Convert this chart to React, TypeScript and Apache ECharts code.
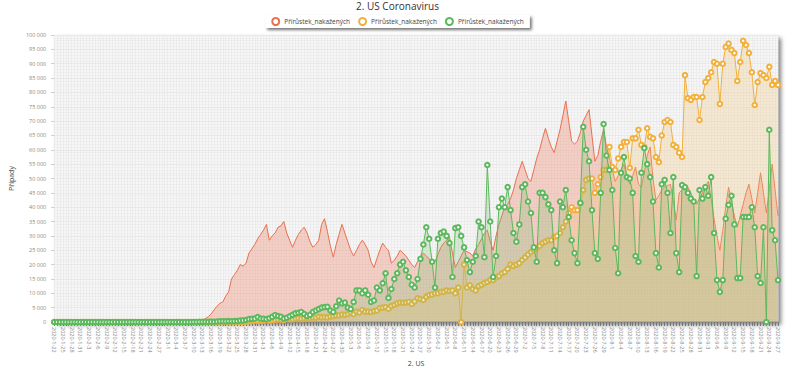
import React, { useEffect, useRef } from "react";
import * as echarts from "echarts";

const START_DATE = "2020-01-22";
const SERIES_NAME = "Přírůstek_nakažených";
const TITLE = "2. US Coronavirus";
const X_NAME = "2. US";
const Y_NAME = "Případy";

const usValues = [
  1,0,0,0,3,0,0,0,0,1,1,0,3,0,0,0,0,0,0,1,0,0,0,0,0,0,0,0,0,0,0,0,0,0,1,0,0,3,
  8,7,12,20,25,30,40,70,90,120,200,300,450,
  700,1200,1800,2800,4200,5500,6500,7000,9000,10500,15000,16500,18000,20000,19500,20500,24000,25500,27000,29000,30500,32000,34000,28500,30000,31000,33000,33500,35000,31000,28500,26000,28500,30500,32000,33000,31000,28000,26000,27000,28500,34000,36000,31500,26500,22600,27000,30500,34000,
  31000,28000,25000,23000,25000,27000,28500,27000,25000,21000,
  19000,22000,25000,27500,26000,25000,20500,21500,23000,25000,
  24000,23000,21500,20000,19000,21000,22500,24000,23000,22000,
  21000,21000,23500,26000,27500,28500,29600,24000,19000,21000,
  23000,25000,24500,24000,23000,25500,27000,29000,31000,32000,
  28000,25000,30000,34000,37000,40000,41000,43000,46000,50000,
  53000,56000,53000,50000,49000,53000,57000,60000,64000,67500,
  64000,61000,59000,63000,67000,72000,77000,70000,63000,62000,
  63000,66000,70000,72000,74000,65000,56000,58000,63000,67000,
  61000,57000,53000,49000,51000,53000,55000,51000,48000,51000,
  54000,48000,47000,52000,58000,61000,50000,42500,44000,46000,
  47000,47500,48000,42000,35500,45000,46000,46500,47000,45000,
  42500,41000,43000,45000,47000,49000,43000,36000,30000,25000,
  32000,40000,47000,42000,37000,33000,37000,41000,45000,48000,
  43000,38000,45000,52000,45000,38000,46000,55000,46000,37000,
];

const indiaValues = [
  0,0,0,0,0,0,0,0,1,0,0,1,1,
  0,0,0,0,0,0,0,0,0,0,0,0,0,0,0,0,0,0,0,0,0,0,0,0,0,0,0,
  2,1,22,2,1,3,5,9,15,8,
  10,10,12,20,12,20,30,40,60,80,
  70,100,80,150,100,130,150,230,400,530,
  440,500,550,700,500,600,800,900,850,750,
  1200,1000,1000,1200,1300,1100,1300,1400,1500,1600,
  1500,1800,1600,1700,1600,1900,2000,2300,2300,2600,
  2500,2800,3300,2700,3600,3300,4200,3600,3600,3500,
  3800,4000,4900,5000,5200,4600,5600,6000,6500,6800,
  6700,6800,7000,6300,7200,8300,8000,7700,8800,9400,
  9600,10000,10000,10500,10500,11000,10800,11000,10000,12000,
  0,20000,12000,12800,11500,11000,12500,13000,13600,14000,
  14600,14600,15500,16000,17000,17400,18500,20000,19500,20000,
  20500,21600,22500,23500,24400,25000,25800,26500,27500,28000,
  28500,28500,29600,30000,31000,33000,35000,38000,40000,39000,
  39000,41500,46000,49500,50000,50000,45000,48000,50500,53000,
  53000,61000,54000,53000,57000,61000,62700,62700,53700,64000,
  64000,67000,61700,61000,67500,64500,64000,57500,55700,65000,
  69700,70400,69700,61700,61000,59000,57500,86000,78000,77400,
  78400,78400,70400,78400,83600,85000,87000,90600,90000,76000,
  90000,95800,97000,94800,93700,84000,90600,98000,96500,93700,
  87000,75600,83600,86700,86000,85000,88900,82600,84000,82600,
];

const brazilValues = [
  0,0,0,0,0,0,0,0,0,0,0,0,0,0,0,0,0,0,0,0,0,0,0,0,0,0,0,0,0,0,0,0,0,0,0,
  1,0,0,1,0,1,0,0,5,7,6,6,12,25,15,60,50,80,70,120,100,170,230,260,240,
  300,250,300,350,500,550,700,1000,1100,1200,
  1700,1200,1100,1000,1300,1800,2400,2100,1800,1200,
  1500,2000,2500,3000,3200,3500,2800,2100,2500,3500,
  4000,4500,5000,5200,5300,4000,3500,5500,7500,6500,
  6800,5000,4500,7000,11000,11000,10000,11000,9500,7000,
  7500,12000,11000,13500,17000,8400,11500,15000,17000,20000,
  21000,18000,15700,13000,12000,15000,
  22000,27000,33000,29000,21000,12000,29000,31000,31500,30000,
  27500,15700,32700,33000,30000,26000,21600,17400,21000,23000,
  35000,33000,22600,54700,35000,15700,23000,40000,43000,40000,
  47000,39000,31000,28000,34000,47000,48000,42000,38000,26000,
  21000,45000,45000,43500,41000,39000,25000,20500,42000,40000,
  46000,36600,28500,24000,20500,41500,68000,60000,56000,39000,
  24000,22000,45000,69000,58000,53000,46000,25800,17000,52000,
  57500,50500,50000,45000,23000,21000,52000,60600,55000,50500,
  42000,24000,19000,48000,49500,45000,31000,50500,24000,17400,
  47700,47000,45000,43000,42000,16000,46000,43000,47000,44000,
  50500,31000,14600,10500,14600,36000,40800,44000,34000,15300,
  15300,36600,36600,36600,40000,33000,16000,13600,33000,0,
  67000,32000,28500,14600,
];

const COUNT = Math.max(usValues.length, indiaValues.length, brazilValues.length);

function buildDates(start: string, n: number): string[] {
  const out: string[] = [];
  const d = new Date(start + "T00:00:00Z");
  for (let i = 0; i < n; i++) {
    out.push(`${d.getUTCFullYear()}-${d.getUTCMonth() + 1}-${d.getUTCDate()}`);
    d.setUTCDate(d.getUTCDate() + 1);
  }
  return out;
}

const categories = buildDates(START_DATE, COUNT);

const fmt = (v: number) => String(v).replace(/\B(?=(\d{3})+(?!\d))/g, " ");

export default function App() {
  const ref = useRef<HTMLDivElement>(null);
  useEffect(() => {
    if (!ref.current) return;
    document.body.style.margin = "0";
    const chart = echarts.init(ref.current, undefined, { renderer: "svg" });
    const font = "Open Sans";
    const mk = (id: number, data: number[], color: string, area: string, sym: boolean, z: number) => ({
      name: SERIES_NAME + "#" + id,
      type: "line",
      data,
      z,
      symbol: "emptyCircle",
      symbolSize: 4.5,
      showSymbol: sym,
      showAllSymbol: true,
      lineStyle: { color, width: 1 },
      itemStyle: { color, borderWidth: 1.1 },
      areaStyle: { color: area },
    });
    chart.setOption({
      animation: false,
      backgroundColor: "#ffffff",
      textStyle: { fontFamily: font },
      title: {
        text: TITLE,
        left: "center",
        top: 1,
        padding: 0,
        textStyle: { fontSize: 10, fontWeight: "normal", color: "#333", fontFamily: font },
      },
      legend: {
        top: 15,
        left: "center",
        icon: "emptyCircle",
        itemWidth: 7,
        itemHeight: 7,
        itemGap: 8,
        padding: [2, 6, 2, 6],
        backgroundColor: "#fff",
        shadowColor: "rgba(0,0,0,0.55)",
        shadowBlur: 3,
        shadowOffsetX: 2,
        shadowOffsetY: 2,
        itemStyle: { borderWidth: 2 },
        textStyle: { fontSize: 6.5, color: "#444", fontFamily: font },
        formatter: (n: string) => n.split("#")[0],
      },
      grid: {
        left: 45,
        right: 17,
        top: 35,
        bottom: 60,
        show: true,
        backgroundColor: "#f6f6f6",
        borderWidth: 0,
        shadowColor: "rgba(0,0,0,0.5)",
        shadowBlur: 4,
        shadowOffsetX: 3,
        shadowOffsetY: 3,
      },
      xAxis: {
        type: "category",
        data: categories,
        boundaryGap: false,
        name: X_NAME,
        nameLocation: "middle",
        nameGap: 37,
        nameTextStyle: { fontSize: 7, color: "#444" },
        axisLine: { lineStyle: { color: "#888", width: 1.5 } },
        axisTick: { show: true, interval: 0, length: 4, lineStyle: { color: "#777", width: 1 } },
        axisLabel: { interval: 2, rotate: -90, fontSize: 5.5, color: "#888", margin: 5 },
        splitLine: { show: true, interval: 0, lineStyle: { color: "#e4e4e4", width: 0.5 } },
      },
      yAxis: {
        type: "value",
        min: 0,
        max: 100000,
        interval: 5000,
        name: Y_NAME,
        nameLocation: "middle",
        nameGap: 32,
        nameTextStyle: { fontSize: 7, color: "#444" },
        axisLine: { show: false },
        axisTick: { show: true, length: 3, lineStyle: { color: "#ccc" } },
        axisLabel: { fontSize: 5.5, color: "#888", formatter: fmt },
        splitLine: { lineStyle: { color: "#dcdcdc", width: 0.5 } },
        minorTick: { show: false, splitNumber: 5 },
        minorSplitLine: { show: true, lineStyle: { color: "#e8e8e8", width: 0.5 } },
      },
      series: [
        mk(1, usValues, "#e8704f", "rgba(238,135,105,0.5)", false, 2),
        mk(2, indiaValues, "#f2b03a", "rgba(246,196,120,0.4)", true, 3),
        mk(3, brazilValues, "#5cb85c", "rgba(120,190,110,0.35)", true, 4),
      ],
    });
    return () => chart.dispose();
  }, []);
  return <div ref={ref} style={{ width: 795, height: 382 }} />;
}
